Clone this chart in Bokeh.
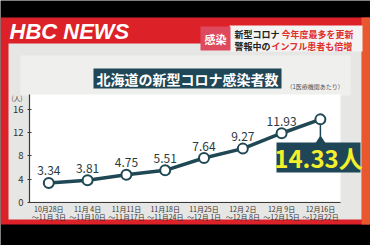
from bokeh.plotting import figure
from bokeh.models import Range1d, LinearAxis, FixedTicker, Label, ColumnDataSource
from bokeh.core.properties import value
from bokeh.embed import file_html
from bokeh.resources import INLINE

# ---- data ----
week_start = ["10月28日", "11月 4日", "11月11日", "11月18日", "11月25日", "12月 2日", "12月 9日", "12月16日"]
week_end = ["～11月 3日", "～11月10日", "～11月17日", "～11月24日", "～12月 1日", "～12月 8日", "～12月15日", "～12月22日"]
cases = [3.34, 3.81, 4.75, 5.51, 7.64, 9.27, 11.93, 14.33]
y_ticks = [0, 4, 8, 12, 16]

JP = "Noto Sans CJK JP"
W, H = 370, 245
X0, DX = 48.3, 38.8      # pixel of first week, pixels per week
Y0, DY = 201.7, 5.78     # pixel of zero, pixels per unit


def fx(px):
    return (px - X0) / DX


def fy(py):
    return (Y0 - py) / DY


p = figure(width=W, height=H, x_range=Range1d(fx(0), fx(W)), y_range=Range1d(fy(H), fy(0)),
           x_axis_type=None, y_axis_type=None, toolbar_location=None,
           output_backend="svg", min_border=0)
p.outline_line_color = None
p.background_fill_color = "black"
p.border_fill_color = "black"


def box(l, r, t, b, color):
    p.quad(left=fx(l), right=fx(r), top=fy(t), bottom=fy(b), fill_color=color, line_color=None)


# decorations (frame of the TV graphic)
box(0, 370, 17, 224, "#dc2128")
box(361, 370, 17, 224, "#e9572f")
box(8, 361, 43, 219, "#e6e6e4")
box(20, 350, 55, 95, "#efefed")
box(29, 340, 94, 201, "#ffffff")
box(229, 362, 25, 51, "#f3f3f3")
box(200, 230, 26, 50, "#dd4a5e")
box(93, 281, 68, 88, "#1f4757")
box(276, 360, 142, 172, "#1e4656")
p.patch(x=[fx(315), fx(325), fx(320)], y=[fy(142.5), fy(142.5), fy(135)], fill_color="#1e4656", line_color=None)

idx = list(range(len(cases)))
# pointer from last point to callout box
p.segment(x0=[idx[-1]], y0=[cases[-1]], x1=[idx[-1]], y1=[fy(140)], line_color="#1e4656", line_width=1.5)

p.line(x=idx, y=cases, line_color="#1f4854", line_width=3.5)
p.scatter(x=idx, y=cases, size=10, fill_color="white", line_color="#1f4854", line_width=2)

src = ColumnDataSource(dict(x=idx[:-1], y=[v + 12 / DY for v in cases[:-1]],
                            t=[f"{v:.2f}" for v in cases[:-1]]))
p.text(x="x", y="y", text="t", source=src, text_align="center", text_baseline="middle",
       text_font=value(JP), text_font_size="12px", text_color="#2b3a40")

# axes
yax = LinearAxis(ticker=FixedTicker(ticks=y_ticks), fixed_location=fx(29), bounds=(0, fy(94)))
yax.axis_line_color = "#3a3a3a"
yax.axis_line_width = 1.2
yax.major_tick_in = 2
yax.major_tick_out = 2
yax.major_tick_line_color = "#3a3a3a"
yax.minor_tick_line_color = None
yax.major_label_standoff = 4
yax.major_label_text_font = JP
yax.major_label_text_font_size = "9.5px"
yax.major_label_text_color = "#333333"
p.add_layout(yax, "left")


def week_axis(labels, standoff, show_line):
    ax = LinearAxis(ticker=FixedTicker(ticks=idx), fixed_location=0, bounds=(fx(29), fx(340)))
    ax.major_label_overrides = {i: t for i, t in enumerate(labels)}
    ax.axis_line_color = "#3a3a3a" if show_line else None
    ax.axis_line_width = 1.2
    ax.major_tick_line_color = None
    ax.major_tick_in = 0
    ax.major_tick_out = 0
    ax.minor_tick_line_color = None
    ax.minor_tick_in = 0
    ax.minor_tick_out = 0
    ax.major_label_standoff = standoff
    ax.major_label_text_font = JP
    ax.major_label_text_font_size = "7px"
    ax.major_label_text_color = "#333333"
    p.add_layout(ax, "below")


week_axis(week_start, 2, True)
week_axis(week_end, 10, False)


def lab(px, py, text, size, color, align="left", font=JP, style="bold"):
    p.add_layout(Label(x=fx(px), y=fy(py), text=text, text_font=font, text_font_size=size,
                       text_color=color, text_align=align, text_baseline="middle",
                       text_font_style=style))


lab(9, 31, "HBC NEWS", "22px", "white", font="Liberation Sans", style="bold italic")
lab(215, 38, "感染", "11px", "white", align="center")
lab(234, 33.5, "新型コロナ", "9px", "#222222")
lab(281, 33.5, "今年度最多を更新", "9px", "#e0302a")
lab(234, 45.5, "警報中の", "9px", "#222222")
lab(271, 45.5, "インフル患者も倍増", "9px", "#e0302a")
lab(187, 78, "北海道の新型コロナ感染者数", "14px", "white", align="center")
lab(286, 86, "（1医療機関あたり）", "6px", "#555555", style="normal")
lab(11, 97, "(人)", "6.5px", "#444444", style="normal")
lab(318, 157, f"{cases[-1]:.2f}人", "24px", "#f3ef2b", align="center")

open("out.html", "w").write(file_html(p, INLINE))
